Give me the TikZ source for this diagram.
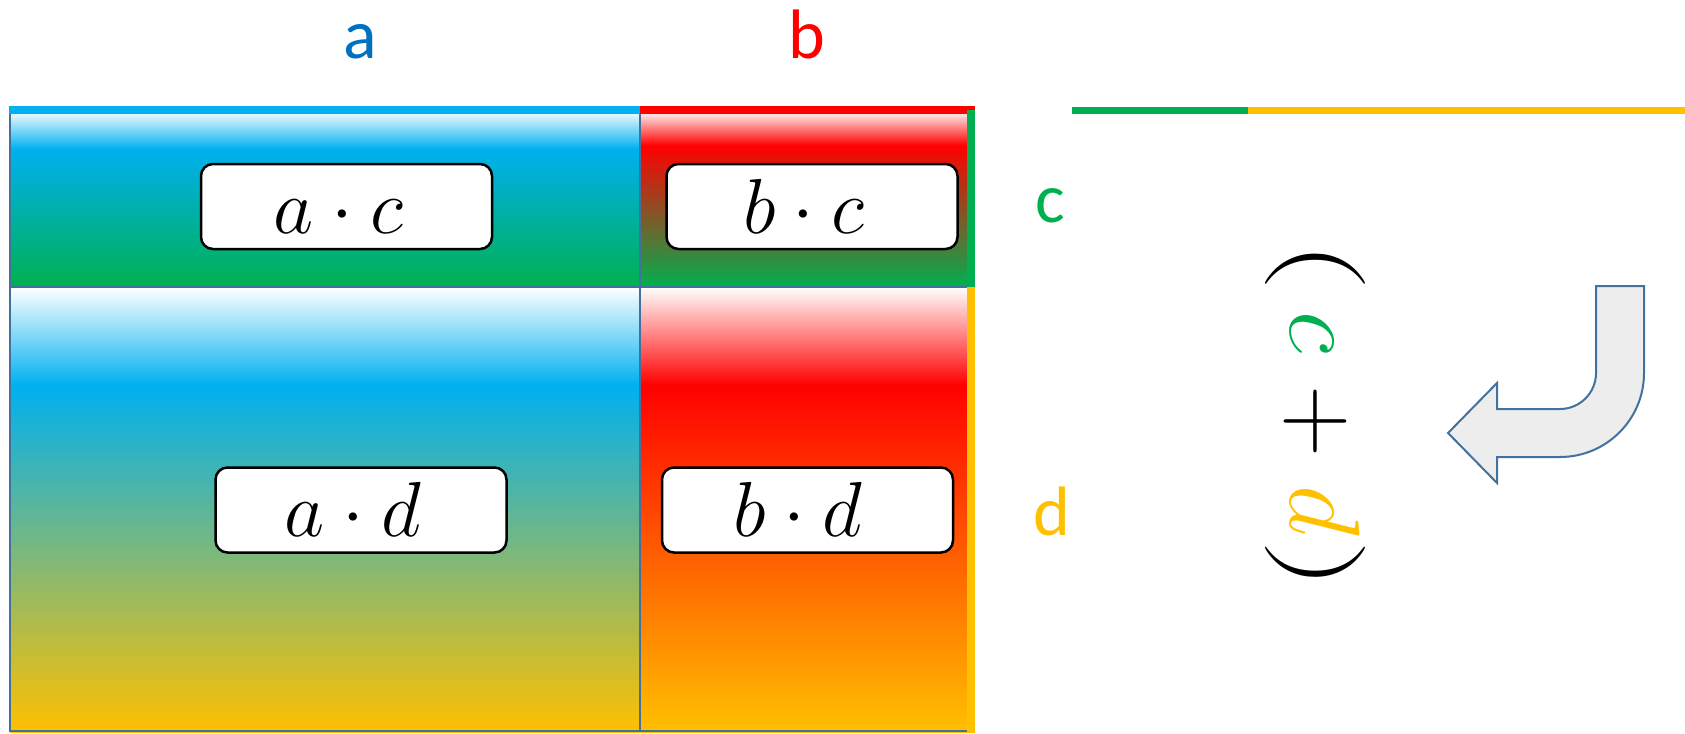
\RequirePackage{fix-cm}
\documentclass[tikz,border=0pt]{standalone}
\usepackage{fontspec}
\newfontfamily\lblfont{Carlito}
\definecolor{cB}{HTML}{00B0F0}
\definecolor{cG}{HTML}{00B050}
\definecolor{cR}{HTML}{FF0000}
\definecolor{cY}{HTML}{FFC000}
\definecolor{cA}{HTML}{0070C0}
\definecolor{edgeblue}{HTML}{41719C}
\definecolor{arrowgray}{HTML}{EDEDED}
\pgfdeclareverticalshading{shAC}{100bp}{color(0bp)=(cG); color(25bp)=(cG); color(64bp)=(cB); color(75bp)=(white); color(100bp)=(white)}
\pgfdeclareverticalshading{shBC}{100bp}{color(0bp)=(cG); color(25bp)=(cG); color(65bp)=(cR); color(75bp)=(white); color(100bp)=(white)}
\pgfdeclareverticalshading{shAD}{100bp}{color(0bp)=(cY); color(25bp)=(cY); color(64bp)=(cB); color(75bp)=(white); color(100bp)=(white)}
\pgfdeclareverticalshading{shBD}{100bp}{color(0bp)=(cY); color(25bp)=(cY); color(64bp)=(cR); color(75bp)=(white); color(100bp)=(white)}
\newcommand{\wideparen}[1]{\scalebox{1.4}[1]{$#1$}}
\begin{document}
\begin{tikzpicture}[x=1pt,y=-1pt,
  cellline/.style={draw=edgeblue,line width=2pt},
  prodbox/.style={draw=black,line width=2.5pt,fill=white,rounded corners=12pt,
    minimum width=291pt,minimum height=85pt,inner sep=0pt,
    text height=53pt,text depth=0pt,font=\fontsize{78}{82}\selectfont},
  sidelabel/.style={font=\lblfont\fontsize{70}{76}\selectfont,anchor=base,inner sep=0pt},
  bar/.style={line width=8pt},
  bentarrow/.style={line width=2pt,draw=edgeblue,fill=arrowgray,line join=miter}]
\useasboundingbox (0,0) rectangle (1685,733);

% cells
\shade[shading=shAC] (10,110) rectangle (640,287);
\shade[shading=shBC] (640,110) rectangle (971,287);
\shade[shading=shAD] (10,287) rectangle (640,732);
\shade[shading=shBD] (640,287) rectangle (971,732);
\draw[cellline] (10,110) rectangle (640,287);
\draw[cellline] (640,110) rectangle (971,287);
\draw[cellline] (10,287) rectangle (640,731);
\draw[cellline] (640,287) rectangle (971,731);

% coloured edges
\coordinate (tl) at (9,110);
\coordinate (tm) at (640,110);
\coordinate (tr) at (975,110);
\coordinate (rt) at (971,110);
\coordinate (rm) at (971,287);
\coordinate (rb) at (971,733);
\draw[bar,cB] (tl) -- (tm);
\draw[bar,cR] (tm) -- (tr);
\draw[bar,cG] (rt) -- (rm);
\draw[bar,cY] (rm) -- (rb);

\coordinate (sl) at (1072,110.5);
\coordinate (sm) at (1248,110.5);
\coordinate (sr) at (1685,110.5);
\draw[line width=7.5pt,cG] (sl) -- (sm);
\draw[line width=7.5pt,cY] (sm) -- (sr);

% products
\node[prodbox] (ac) at (346.5,206.5) {$a\cdot c$\kern16pt};
\node[prodbox] (bc) at (812,206.5) {$b\cdot c$\kern16pt};
\node[prodbox] (ad) at (361,510) {$a\cdot d$\kern16pt};
\node[prodbox] (bd) at (807.5,510) {$b\cdot d$\kern20pt};

% labels
\node[sidelabel,text=cA] (la) at (360,59) {a};
\node[sidelabel,text=cR] (lb) at (807,59) {b};
\node[sidelabel,text=cG] (lc) at (1050,222) {c};
\node[sidelabel,text=cY] (ld) at (1052,535) {d};

% rotated sum
\node[rotate=-90,inner sep=0pt,font=\fontsize{100}{110}\selectfont] (cd) at (1315,416)
  {$\mathopen{\wideparen{(}}\mskip3.5mu{\color{cG}c}\mskip1.9mu+\mskip0.9mu{\color{cY}d}\mskip0.8mu\mathclose{\wideparen{)}}$};

% bent arrow
\path[bentarrow] (1596,286) -- (1644,286) -- (1644,373)
  .. controls (1644,419.4) and (1606.4,457) .. (1560,457)
  -- (1497,457) -- (1497,483) -- (1448,433) -- (1497,383) -- (1497,409) -- (1560,409)
  .. controls (1579.9,409) and (1596,392.9) .. (1596,373) -- cycle;
\end{tikzpicture}
\end{document}
